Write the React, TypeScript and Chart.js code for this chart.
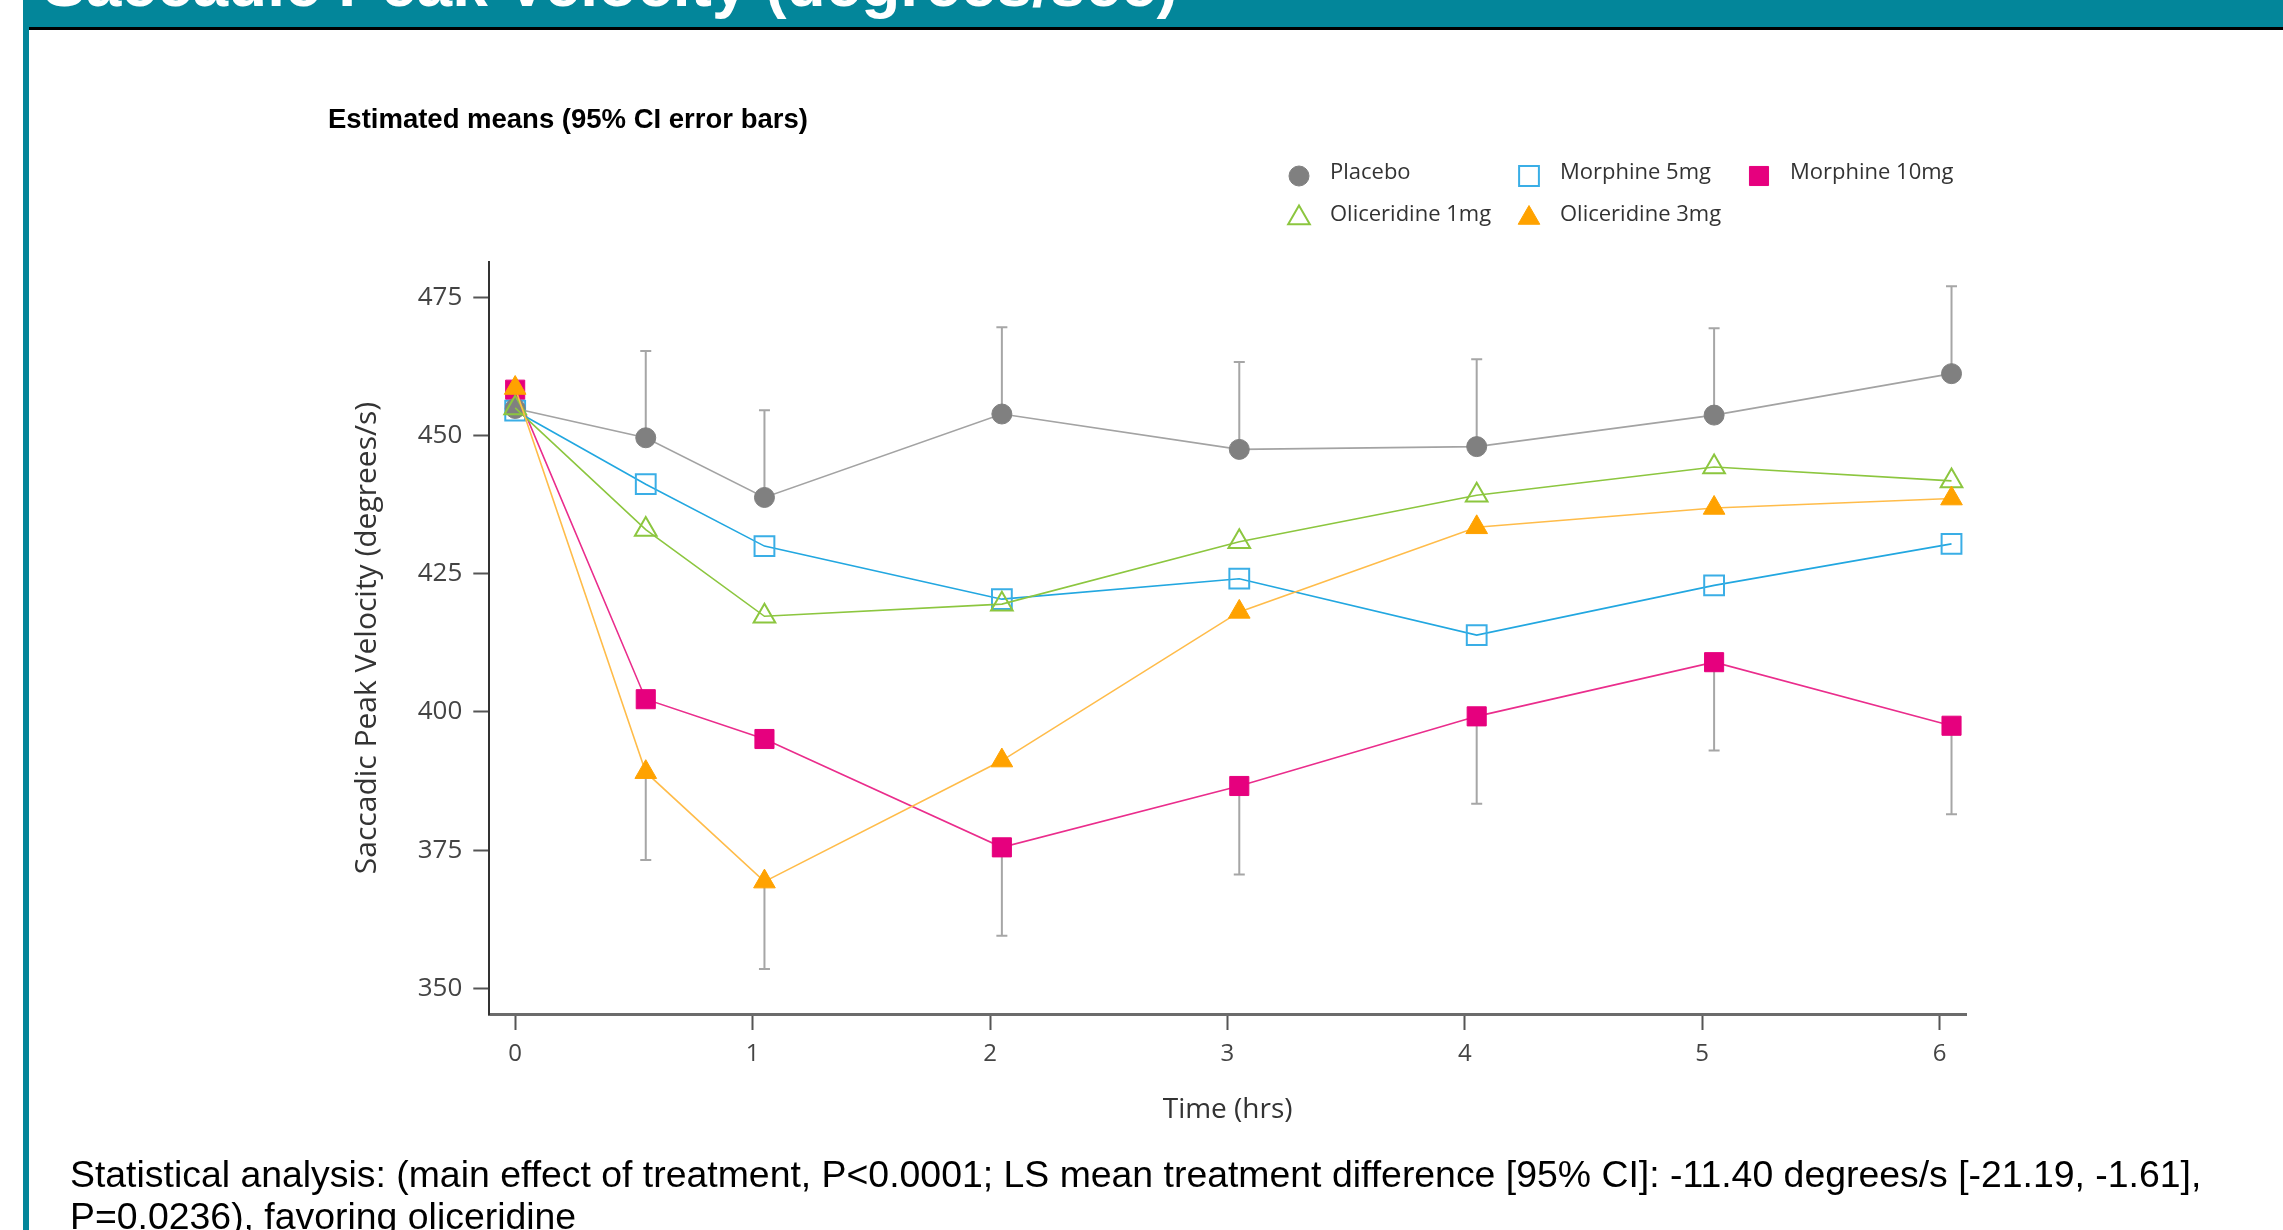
import React, { useEffect, useRef } from "react";
import { Chart, registerables } from "chart.js";

Chart.register(...registerables);

// Measurement times (hours); post-dose points sit slightly right of the nominal hour
const timePoints = [0, 0.55, 1.05, 2.05, 3.05, 4.05, 5.05, 6.05];

// Estimated means, saccadic peak velocity (degrees/s)
const placebo = [454.9, 449.6, 438.8, 453.9, 447.5, 448.0, 453.7, 461.2];
const morphine5 = [454.5, 441.2, 430.0, 420.4, 424.1, 413.9, 422.9, 430.4];
const morphine10 = [458.3, 402.3, 395.1, 375.5, 386.6, 399.2, 409.0, 397.5];
const oliceridine1 = [455.0, 433.0, 417.3, 419.5, 430.8, 439.2, 444.3, 441.8];
const oliceridine3 = [458.6, 389.1, 369.3, 391.2, 418.1, 433.4, 436.9, 438.6];

// 95% CI bounds shown as one-sided error bars
const placeboUpper = [null, 465.3, 454.6, 469.6, 463.3, 463.8, 469.4, 477.0];
const morphine10Lower = [null, null, null, 359.5, 370.6, 383.4, 393.0, 381.5];
const oliceridine3Lower = [null, 373.2, 353.5, null, null, null, null, null];

const xTicks = [0, 1, 2, 3, 4, 5, 6];
const yTicks = [350, 375, 400, 425, 450, 475];

const seriesNames = ["Placebo", "Morphine 5mg", "Morphine 10mg", "Oliceridine 1mg", "Oliceridine 3mg"];

const TEAL = "#03869a";
const FONT = "'Open Sans', 'Noto Sans', sans-serif";

type Marker = {
  style: "circle" | "rect" | "triangle";
  radius: number;
  fill: string;
  stroke: string;
  width: number;
};

const markers: Marker[] = [
  { style: "circle", radius: 10, fill: "#808080", stroke: "#808080", width: 1 },
  { style: "rect", radius: 14, fill: "rgba(255,255,255,0)", stroke: "#3aaee6", width: 2 },
  { style: "rect", radius: 13.5, fill: "#e6007e", stroke: "#e6007e", width: 1 },
  { style: "triangle", radius: 12.5, fill: "rgba(255,255,255,0)", stroke: "#8cc63f", width: 2 },
  { style: "triangle", radius: 12.5, fill: "#ffa200", stroke: "#ffa200", width: 1 },
];

const lineColors = ["#a3a3a3", "#22a7e0", "#ea2d8c", "#8cc63f", "#ffbc4a"];
const seriesValues = [placebo, morphine5, morphine10, oliceridine1, oliceridine3];
const drawOrder = [3, 4, 5, 2, 1];

function drawMarker(ctx: CanvasRenderingContext2D, m: Marker, x: number, y: number) {
  ctx.save();
  ctx.beginPath();
  const r = m.radius;
  if (m.style === "circle") {
    ctx.arc(x, y, r, 0, Math.PI * 2);
  } else if (m.style === "rect") {
    const s = Math.SQRT1_2 * r;
    ctx.rect(x - s, y - s, 2 * s, 2 * s);
  } else {
    ctx.moveTo(x, y - r);
    ctx.lineTo(x + 0.866 * r, y + 0.5 * r);
    ctx.lineTo(x - 0.866 * r, y + 0.5 * r);
    ctx.closePath();
  }
  ctx.fillStyle = m.fill;
  ctx.fill();
  ctx.lineWidth = m.width;
  ctx.strokeStyle = m.stroke;
  ctx.stroke();
  ctx.restore();
}

// One-sided CI whiskers, drawn under the markers
const errorBarPlugin = {
  id: "errorBars",
  beforeDatasetsDraw(chart: any) {
    const { ctx, scales } = chart;
    const xs = scales.x;
    const ys = scales.y;
    const pairs: [number[], (number | null)[]][] = [
      [placebo, placeboUpper],
      [morphine10, morphine10Lower],
      [oliceridine3, oliceridine3Lower],
    ];
    ctx.save();
    ctx.strokeStyle = "#a6a6a6";
    ctx.lineWidth = 2;
    const cap = 5.5;
    pairs.forEach(([means, bounds]) => {
      bounds.forEach((b, i) => {
        if (b === null) return;
        const px = xs.getPixelForValue(timePoints[i]);
        const py0 = ys.getPixelForValue(means[i]);
        const py1 = ys.getPixelForValue(b);
        ctx.beginPath();
        ctx.moveTo(px, py0);
        ctx.lineTo(px, py1);
        ctx.moveTo(px - cap, py1);
        ctx.lineTo(px + cap, py1);
        ctx.stroke();
      });
    });
    ctx.restore();
  },
};

// Legend laid out in a 3 + 2 grid above the plot
const legendPlugin = {
  id: "gridLegend",
  afterDraw(chart: any) {
    const ctx: CanvasRenderingContext2D = chart.ctx;
    const cols = [1299, 1529, 1759];
    const rows = [176, 218];
    const slots = [
      [0, 0],
      [1, 0],
      [2, 0],
      [0, 1],
      [1, 1],
    ];
    ctx.save();
    ctx.font = `22px ${FONT}`;
    ctx.textBaseline = "middle";
    ctx.textAlign = "left";
    seriesNames.forEach((name, i) => {
      const [c, r] = slots[i];
      const x = cols[c];
      const y = rows[r];
      drawMarker(ctx, markers[i], x, y);
      ctx.fillStyle = "#333333";
      ctx.fillText(name, x + 31, y - 3);
    });
    ctx.restore();
  },
};

export default function App() {
  const canvasRef = useRef<HTMLCanvasElement | null>(null);

  useEffect(() => {
    if (!canvasRef.current) return;
    const datasets = seriesNames.map((name, i) => ({
      label: name,
      data: timePoints.map((t, j) => ({ x: t, y: seriesValues[i][j] })),
      borderColor: lineColors[i],
      borderWidth: 1.6,
      backgroundColor: markers[i].fill,
      pointStyle: markers[i].style,
      pointRadius: markers[i].radius,
      pointHoverRadius: markers[i].radius,
      pointBackgroundColor: markers[i].fill,
      pointBorderColor: markers[i].stroke,
      pointBorderWidth: markers[i].width,
      tension: 0,
      fill: false,
      order: drawOrder[i],
    }));

    const chart = new Chart(canvasRef.current, {
      type: "line",
      data: { datasets },
      plugins: [errorBarPlugin, legendPlugin],
      options: {
        responsive: false,
        animation: false,
        devicePixelRatio: 1,
        layout: { padding: { left: 330, top: 262, right: 317, bottom: 103 } },
        plugins: {
          legend: { display: false },
          tooltip: { enabled: false },
          title: { display: false },
        },
        scales: {
          x: {
            type: "linear",
            min: -0.109,
            max: 6.111,
            afterBuildTicks: (scale: any) => {
              scale.ticks = xTicks.map((v) => ({ value: v }));
            },
            afterFit: (scale: any) => {
              scale.height = 113;
            },
            grid: {
              drawOnChartArea: false,
              drawTicks: true,
              tickLength: 16,
              tickWidth: 2,
              tickColor: "#555555",
            },
            border: { display: true, color: "#6b6b6b", width: 3 },
            ticks: {
              padding: 10,
              color: "#444444",
              font: { family: FONT, size: 24 },
              callback: (v: any) => String(v),
            },
            title: {
              display: true,
              text: "Time (hrs)",
              color: "#333333",
              font: { family: FONT, size: 28 },
              padding: { top: 0, bottom: 0 },
            },
          },
          y: {
            type: "linear",
            min: 345.35,
            max: 481.4,
            afterBuildTicks: (scale: any) => {
              scale.ticks = yTicks.map((v) => ({ value: v }));
            },
            afterFit: (scale: any) => {
              scale.width = 159.3;
            },
            grid: {
              drawOnChartArea: false,
              drawTicks: true,
              tickLength: 16,
              tickWidth: 2,
              tickColor: "#555555",
            },
            border: { display: true, color: "#333333", width: 2 },
            ticks: {
              padding: 11,
              color: "#444444",
              font: { family: FONT, size: 26 },
              callback: (v: any) => String(v),
            },
            title: {
              display: true,
              text: "Saccadic Peak Velocity (degrees/s)",
              color: "#333333",
              font: { family: FONT, size: 30 },
              padding: { top: 19, bottom: 0 },
            },
          },
        },
      },
    } as any);

    return () => chart.destroy();
  }, []);

  return (
    <div
      style={{
        position: "fixed",
        left: 0,
        top: 0,
        width: 2283,
        height: 1230,
        background: "#ffffff",
        overflow: "hidden",
      }}
    >
      {/* slide header band */}
      <div
        style={{
          position: "absolute",
          left: 29,
          top: 0,
          width: 2254,
          height: 27,
          background: TEAL,
          overflow: "hidden",
        }}
      >
        <div
          style={{
            position: "absolute",
            left: 14,
            top: -48,
            whiteSpace: "nowrap",
            color: "#ffffff",
            fontFamily: "'Liberation Sans', Arial, sans-serif",
            fontWeight: 700,
            fontSize: 64,
            lineHeight: "64px",
          }}
        >
          Saccadic Peak Velocity (degrees/sec)
        </div>
      </div>
      <div style={{ position: "absolute", left: 29, top: 27, width: 2254, height: 3, background: "#000000" }} />
      <div style={{ position: "absolute", left: 23, top: 0, width: 6, height: 1230, background: TEAL }} />

      <canvas
        ref={canvasRef}
        width={2283}
        height={1230}
        style={{ position: "absolute", left: 0, top: 0, width: 2283, height: 1230 }}
      />

      <div
        style={{
          position: "absolute",
          left: 328,
          top: 103,
          whiteSpace: "nowrap",
          fontFamily: "'Liberation Sans', Arial, sans-serif",
          fontWeight: 700,
          fontSize: 27.5,
          lineHeight: "32px",
          color: "#000000",
        }}
      >
        Estimated means (95% CI error bars)
      </div>

      <div
        style={{
          position: "absolute",
          left: 70,
          top: 1153,
          whiteSpace: "nowrap",
          fontFamily: "'Liberation Sans', Arial, sans-serif",
          fontSize: 37.4,
          lineHeight: "42px",
          color: "#000000",
        }}
      >
        Statistical analysis: (main effect of treatment, P&lt;0.0001; LS mean treatment difference [95% CI]: -11.40 degrees/s [-21.19, -1.61],
        <br />
        P=0.0236), favoring oliceridine
      </div>
    </div>
  );
}
